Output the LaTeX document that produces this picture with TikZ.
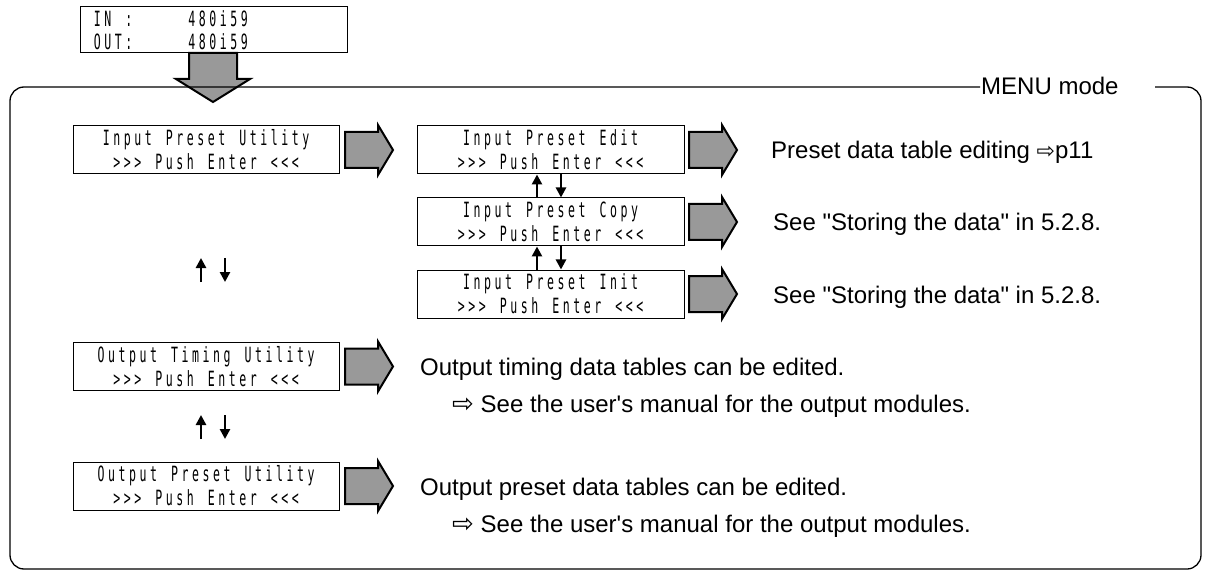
\documentclass[tikz,border=0pt]{standalone}
\usepackage{fontspec}
\setmainfont{Liberation Sans}
\newfontfamily\lcdfont[FakeStretch=0.55]{DejaVu Sans Mono}
\newfontfamily\symfont{DejaVu Sans}
\usetikzlibrary{arrows.meta}
\ExplSyntaxOn
\NewDocumentCommand\lcd{m}{\tl_map_inline:nn{#1}{\makebox[10.5pt]{##1}}}
\ExplSyntaxOff
\definecolor{arrowgray}{HTML}{999999}
\newcommand\rarrsym[1]{{\symfont\fontsize{#1}{20}\selectfont ⇨}}
\tikzset{
  lcdbox/.style={draw, line width=1pt, minimum width=266pt, minimum height=48pt,
    inner sep=0pt, align=center, font=\fontsize{21}{24}\selectfont\lcdfont},
  frameline/.style={line width=1.3pt, rounded corners=14pt},
  garrow/.style={draw=black, line width=2pt, fill=arrowgray, line join=miter},
  rarr/.pic={\path[garrow] (0,-18) -- (33,-18) -- (33,-25) -- (48,0) -- (33,25) -- (33,18) -- (0,18) -- cycle;},
  sarrow/.style={line width=2.6pt, -{Triangle[length=10pt,width=10pt]}},
  desc/.style={inner sep=0pt, anchor=base west, font=\fontsize{24}{28}\selectfont}
}
\begin{document}
\begin{tikzpicture}[x=1pt,y=-1pt]
\useasboundingbox (0,0) rectangle (1205,572);
% top status box
\node[draw, line width=1pt, minimum width=267pt, minimum height=46pt, inner xsep=12pt, inner ysep=0pt,
  text width=243pt, align=left, font=\fontsize{21}{22.5}\selectfont\lcdfont] (status) at (213.5,30)
  {\lcd{IN~:~~~~~480i59}\\\lcd{OUT:~~~~~480i59}};
% big down arrow
\path[garrow] (189,53) -- (237,53) -- (237,79) -- (250,79) -- (213,102) -- (176,79) -- (189,79) -- cycle;
% frame
\draw[frameline] (1155,87) -- (1201,87) -- (1201,569) -- (10,569) -- (10,87) -- (980,87);
\node[desc] (menu) at (981,95) {MENU mode};
% left column boxes
\node[lcdbox] (ipu) at (206,149.5) {\lcd{Input~Preset~Utility}\\\lcd{>>>~Push~Enter~<<<}};
\node[lcdbox] (otu) at (206,366.5) {\lcd{Output~Timing~Utility}\\\lcd{>>>~Push~Enter~<<<}};
\node[lcdbox] (opu) at (206,486) {\lcd{Output~Preset~Utility}\\\lcd{>>>~Push~Enter~<<<}};
% middle column boxes
\node[lcdbox, minimum width=267pt] (edit) at (550.5,150) {\lcd{Input~Preset~Edit}\\\lcd{>>>~Push~Enter~<<<}};
\node[lcdbox, minimum width=267pt] (copy) at (550.5,222) {\lcd{Input~Preset~Copy}\\\lcd{>>>~Push~Enter~<<<}};
\node[lcdbox, minimum width=267pt] (init) at (550.5,294) {\lcd{Input~Preset~Init}\\\lcd{>>>~Push~Enter~<<<}};
% gray arrows
\pic (a1) at (345,150) {rarr};
\pic (a2) at (345,366.5) {rarr};
\pic (a3) at (345,486) {rarr};
\pic (a4) at (689,150) {rarr};
\pic (a5) at (689,222) {rarr};
\pic (a6) at (689,294) {rarr};
% small arrows between middle boxes
\draw[sarrow] ([xshift=-13.5pt]copy.north) -- ([xshift=-13.5pt]edit.south);
\draw[sarrow] ([xshift=10.5pt]edit.south) -- ([xshift=10.5pt]copy.north);
\draw[sarrow] ([xshift=-13.5pt]init.north) -- ([xshift=-13.5pt]copy.south);
\draw[sarrow] ([xshift=10.5pt]copy.south) -- ([xshift=10.5pt]init.north);
% left up/down pairs
\coordinate (p1a) at (201,282); \coordinate (p1b) at (201,258);
\coordinate (p2a) at (225,258); \coordinate (p2b) at (225,282);
\coordinate (p3a) at (201,439); \coordinate (p3b) at (201,415);
\coordinate (p4a) at (225,415); \coordinate (p4b) at (225,439);
\draw[sarrow] (p1a) -- (p1b);
\draw[sarrow] (p2a) -- (p2b);
\draw[sarrow] (p3a) -- (p3b);
\draw[sarrow] (p4a) -- (p4b);
% descriptions
\node[desc] (t1) at (771,159) {Preset data table editing \rarrsym{22}p11};
\node[desc] (t2) at (773,231) {See \textquotedbl Storing the data\textquotedbl{} in 5.2.8.};
\node[desc] (t3) at (773,303) {See \textquotedbl Storing the data\textquotedbl{} in 5.2.8.};
\node[desc] (t4) at (420,375) {Output timing data tables can be edited.};
\node[desc] (t5) at (452,412) {\rarrsym{26}\ See the user\textquotesingle s manual for the output modules.};
\node[desc] (t6) at (420,495) {Output preset data tables can be edited.};
\node[desc] (t7) at (452,532) {\rarrsym{26}\ See the user\textquotesingle s manual for the output modules.};
\end{tikzpicture}
\end{document}
